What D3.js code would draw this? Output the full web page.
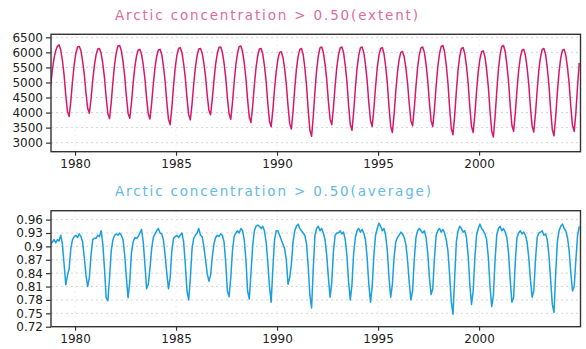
<!DOCTYPE html>
<html>
<head>
<meta charset="utf-8">
<script src="https://cdn.jsdelivr.net/npm/d3@7"></script>
<style>
  body { margin: 0; background: #fff; }
  text { font-family: "DejaVu Sans", sans-serif; }
</style>
</head>
<body>
<svg id="chart"></svg>
<script>
// monthly means, first value is October 1978
const startYear = 1978, startMonth = 9;

const extentValues = [
  4900, 5400, 5800,
  6050, 6200, 6250, 6080, 5730, 5250, 4580, 4040, 3870, 4380, 5040, 5590, // 1979
  5970, 6180, 6200, 6050, 5710, 5270, 4650, 4140, 3980, 4450, 5060, 5570, // 1980
  5920, 6110, 6130, 5970, 5620, 5150, 4500, 3960, 3800, 4340, 5020, 5600, // 1981
  5990, 6210, 6230, 6060, 5700, 5210, 4540, 3980, 3810, 4310, 4960, 5510, // 1982
  5870, 6080, 6100, 5940, 5590, 5130, 4480, 3950, 3790, 4300, 4950, 5500, // 1983
  5870, 6080, 6100, 5930, 5550, 5050, 4350, 3780, 3600, 4160, 4880, 5490, // 1984
  5900, 6130, 6160, 5990, 5630, 5150, 4480, 3930, 3760, 4280, 4950, 5510, // 1985
  5890, 6110, 6130, 5980, 5650, 5210, 4590, 4080, 3930, 4430, 5060, 5600, // 1986
  5960, 6160, 6180, 6010, 5650, 5170, 4500, 3950, 3780, 4320, 5000, 5580, // 1987
  5970, 6190, 6210, 6030, 5650, 5140, 4430, 3850, 3670, 4210, 4900, 5490, // 1988
  5880, 6110, 6130, 5950, 5560, 5040, 4310, 3710, 3530, 4080, 4780, 5370, // 1989
  5770, 6000, 6020, 5840, 5460, 4940, 4230, 3640, 3455, 4040, 4790, 5440, // 1990
  5860, 6100, 6130, 5930, 5490, 4900, 4090, 3410, 3210, 3860, 4700, 5410, // 1991
  5880, 6150, 6180, 6000, 5610, 5100, 4370, 3780, 3600, 4170, 4890, 5510, // 1992
  5920, 6150, 6180, 5990, 5570, 5020, 4240, 3600, 3410, 4020, 4800, 5460, // 1993
  5900, 6150, 6180, 6000, 5600, 5070, 4330, 3730, 3540, 4120, 4850, 5480, // 1994
  5900, 6130, 6160, 5960, 5540, 4980, 4190, 3540, 3340, 3930, 4690, 5330, // 1995
  5760, 6000, 6030, 5860, 5490, 4990, 4300, 3730, 3560, 4140, 4870, 5500, // 1996
  5920, 6150, 6180, 6000, 5600, 5070, 4330, 3730, 3540, 4130, 4890, 5530, // 1997
  5960, 6200, 6230, 6020, 5580, 4990, 4160, 3470, 3265, 3900, 4710, 5410, // 1998
  5870, 6130, 6160, 5960, 5540, 4980, 4190, 3540, 3340, 3940, 4700, 5350, // 1999
  5780, 6020, 6050, 5850, 5420, 4850, 4050, 3390, 3190, 3860, 4710, 5440, // 2000
  5930, 6200, 6230, 6030, 5600, 5030, 4230, 3580, 3375, 3980, 4740, 5390, // 2001
  5830, 6070, 6100, 5910, 5500, 4950, 4180, 3550, 3355, 3970, 4740, 5410, // 2002
  5850, 6100, 6130, 5930, 5490, 4910, 4100, 3430, 3230, 3860, 4670, 5350, // 2003
  5810, 6070, 6100, 5910, 5500, 4960, 4190, 3570, 3375, 4000, 4900, 5650  // 2004
];

const averageValues = [
  0.905, 0.910, 0.915,
  0.908, 0.915, 0.912, 0.925, 0.905, 0.860, 0.814, 0.835, 0.850, 0.895, 0.915, 0.922, // 1979
  0.925, 0.920, 0.928, 0.922, 0.910, 0.875, 0.835, 0.810, 0.830, 0.880, 0.915, 0.918, // 1980
  0.918, 0.925, 0.922, 0.935, 0.905, 0.850, 0.785, 0.778, 0.830, 0.890, 0.915, 0.925, // 1981
  0.928, 0.925, 0.930, 0.925, 0.915, 0.880, 0.830, 0.785, 0.820, 0.885, 0.910, 0.920, // 1982
  0.918, 0.922, 0.930, 0.938, 0.910, 0.860, 0.805, 0.815, 0.850, 0.895, 0.920, 0.928, // 1983
  0.935, 0.940, 0.930, 0.928, 0.915, 0.880, 0.840, 0.805, 0.830, 0.890, 0.918, 0.922, // 1984
  0.925, 0.920, 0.925, 0.930, 0.910, 0.860, 0.800, 0.780, 0.830, 0.895, 0.918, 0.925, // 1985
  0.930, 0.940, 0.925, 0.922, 0.900, 0.870, 0.840, 0.822, 0.835, 0.875, 0.905, 0.920, // 1986
  0.925, 0.922, 0.928, 0.925, 0.910, 0.865, 0.800, 0.787, 0.830, 0.890, 0.922, 0.930, // 1987
  0.935, 0.930, 0.940, 0.935, 0.915, 0.870, 0.800, 0.782, 0.840, 0.900, 0.935, 0.945, // 1988
  0.948, 0.945, 0.940, 0.945, 0.935, 0.910, 0.865, 0.810, 0.775, 0.850, 0.915, 0.935, // 1989
  0.935, 0.925, 0.915, 0.905, 0.895, 0.870, 0.815, 0.830, 0.860, 0.910, 0.935, 0.945, // 1990
  0.950, 0.940, 0.935, 0.930, 0.925, 0.905, 0.855, 0.790, 0.762, 0.850, 0.925, 0.940, // 1991
  0.945, 0.935, 0.940, 0.930, 0.915, 0.880, 0.830, 0.786, 0.820, 0.890, 0.925, 0.930, // 1992
  0.930, 0.935, 0.928, 0.932, 0.915, 0.880, 0.820, 0.780, 0.815, 0.885, 0.920, 0.935, // 1993
  0.940, 0.932, 0.938, 0.930, 0.915, 0.875, 0.815, 0.775, 0.810, 0.880, 0.925, 0.940, // 1994
  0.952, 0.945, 0.935, 0.940, 0.925, 0.890, 0.830, 0.786, 0.815, 0.875, 0.910, 0.920, // 1995
  0.925, 0.932, 0.928, 0.920, 0.905, 0.870, 0.820, 0.780, 0.800, 0.870, 0.920, 0.935, // 1996
  0.940, 0.935, 0.930, 0.935, 0.920, 0.885, 0.830, 0.792, 0.805, 0.875, 0.925, 0.935, // 1997
  0.940, 0.932, 0.938, 0.930, 0.915, 0.890, 0.835, 0.775, 0.748, 0.830, 0.910, 0.935, // 1998
  0.945, 0.940, 0.932, 0.935, 0.920, 0.880, 0.815, 0.770, 0.800, 0.875, 0.925, 0.940, // 1999
  0.950, 0.940, 0.935, 0.928, 0.915, 0.875, 0.810, 0.765, 0.790, 0.870, 0.925, 0.940, // 2000
  0.945, 0.935, 0.940, 0.932, 0.920, 0.885, 0.825, 0.775, 0.785, 0.865, 0.920, 0.930, // 2001
  0.935, 0.928, 0.932, 0.925, 0.910, 0.875, 0.825, 0.786, 0.800, 0.870, 0.920, 0.930, // 2002
  0.932, 0.935, 0.925, 0.928, 0.915, 0.880, 0.825, 0.770, 0.752, 0.840, 0.910, 0.935, // 2003
  0.945, 0.950, 0.940, 0.935, 0.920, 0.890, 0.840, 0.800, 0.810, 0.870, 0.925, 0.945  // 2004
];

const yearTicks = [1980, 1985, 1990, 1995, 2000];
const extentTicks = [3000, 3500, 4000, 4500, 5000, 5500, 6000, 6500];
const averageTicks = [0.72, 0.75, 0.78, 0.81, 0.84, 0.87, 0.9, 0.93, 0.96];
const titles = ["Arctic concentration > 0.50(extent)", "Arctic concentration > 0.50(average)"];

const W = 586, H = 349;
const left = 51, right = 580.5;

const svg = d3.select("#chart").attr("width", W).attr("height", H);
svg.append("rect").attr("width", W).attr("height", H).attr("fill", "#fff");

const x = d3.scaleLinear().domain([1978.81, 2005.02]).range([left, right]);

function toPoints(values) {
  return values.map(function (v, i) {
    return {t: startYear + (startMonth + i + 0.5) / 12, v: v};
  });
}

function drawPanel(cfg, idx) {
  const y = d3.scaleLinear().domain(cfg.domain).range([cfg.bottom, cfg.top]);
  const g = svg.append("g");

  // dotted grid
  g.append("g").selectAll("line").data(cfg.ticks).join("line")
    .attr("x1", left).attr("x2", right)
    .attr("y1", d => y(d)).attr("y2", d => y(d))
    .attr("stroke", "#d4d4d4").attr("stroke-width", 1)
    .attr("stroke-dasharray", "2,3");
  g.append("g").selectAll("line").data(yearTicks).join("line")
    .attr("x1", d => x(d)).attr("x2", d => x(d))
    .attr("y1", cfg.top).attr("y2", cfg.bottom)
    .attr("stroke", "#ececec").attr("stroke-width", 1)
    .attr("stroke-dasharray", "2,3");

  svg.append("clipPath").attr("id", "clip" + idx)
    .append("rect")
    .attr("x", left).attr("y", cfg.top)
    .attr("width", right - left).attr("height", cfg.bottom - cfg.top);

  const line = d3.line()
    .x(d => x(d.t))
    .y(d => y(d.v));

  g.append("path")
    .datum(toPoints(cfg.values))
    .attr("clip-path", "url(#clip" + idx + ")")
    .attr("fill", "none")
    .attr("stroke", cfg.color)
    .attr("stroke-width", 1.5)
    .attr("stroke-linejoin", "round")
    .attr("d", line);

  const yAxis = g.append("g")
    .attr("transform", "translate(" + left + ",0)")
    .call(d3.axisLeft(y).tickValues(cfg.ticks).tickSize(5).tickPadding(3)
      .tickFormat(d => String(d)));
  const xAxis = g.append("g")
    .attr("transform", "translate(0," + cfg.bottom + ")")
    .call(d3.axisBottom(x).tickValues(yearTicks).tickSize(4).tickPadding(4)
      .tickFormat(d3.format("d")));

  [yAxis, xAxis].forEach(function (a) {
    a.select(".domain").remove();
    a.selectAll(".tick line").attr("stroke", "#333").attr("stroke-width", 1.2);
    a.selectAll("text").attr("font-size", 12).attr("fill", "#222")
      .style("font-family", "'DejaVu Sans', sans-serif");
  });

  g.append("rect")
    .attr("x", left).attr("y", cfg.top)
    .attr("width", right - left).attr("height", cfg.bottom - cfg.top)
    .attr("fill", "none").attr("stroke", "#333").attr("stroke-width", 1.4);

  g.append("text")
    .attr("x", 115).attr("y", cfg.titleY)
    .attr("font-size", 13.5)
    .attr("fill", cfg.titleColor)
    .attr("textLength", cfg.titleWidth)
    .attr("lengthAdjust", "spacing")
    .text(cfg.title);
}

drawPanel({
  values: extentValues, ticks: extentTicks, domain: [2700, 6600],
  top: 34.3, bottom: 151.7, color: "#d6186a",
  title: titles[0], titleY: 19.5, titleColor: "#e06a9e", titleWidth: 303
}, 0);

drawPanel({
  values: averageValues, ticks: averageTicks, domain: [0.72, 0.98],
  top: 210.7, bottom: 326.7, color: "#1a9fe0",
  title: titles[1], titleY: 196, titleColor: "#62b9e6", titleWidth: 316
}, 1);
</script>
</body>
</html>
